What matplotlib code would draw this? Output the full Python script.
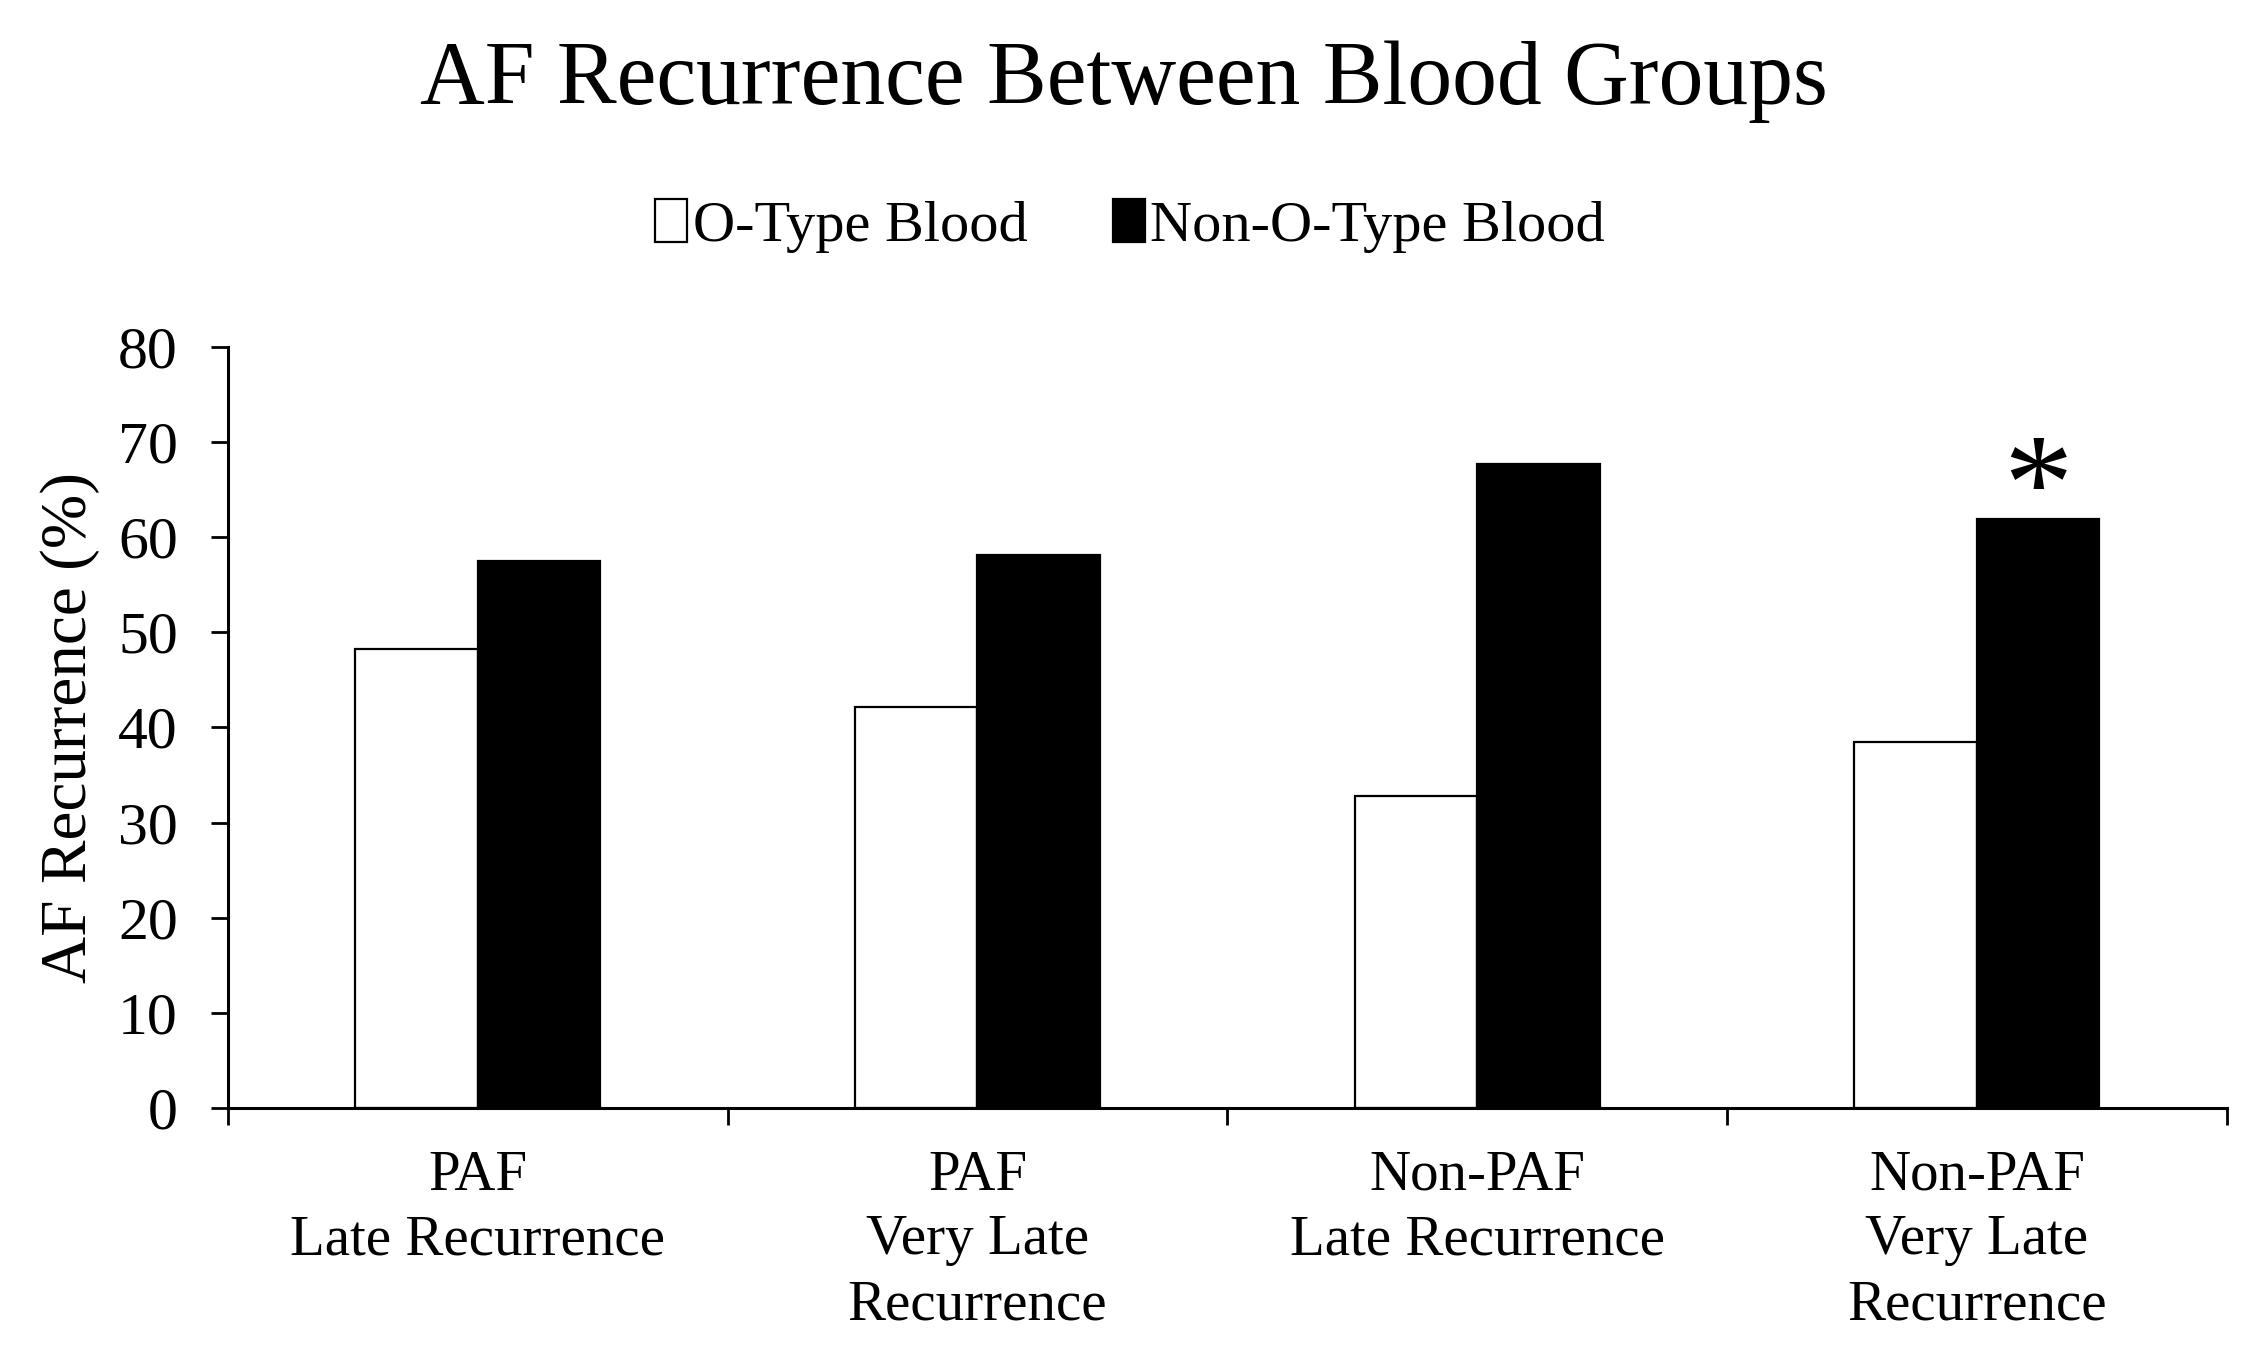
import numpy as np
import matplotlib.pyplot as plt

# data
categories = ['PAF\nLate Recurrence', 'PAF\nVery Late\nRecurrence',
              'Non-PAF\nLate Recurrence', 'Non-PAF\nVery Late\nRecurrence']
o_type = [48.3, 42.2, 32.8, 38.5]
non_o_type = [57.5, 58.1, 67.7, 61.9]
significant = [False, False, False, True]
series_names = ['O-Type Blood', 'Non-O-Type Blood']

plt.rcParams['font.family'] = ['Liberation Serif', 'DejaVu Serif']

fig = plt.figure(figsize=(22.56, 13.61), dpi=100)
ax = fig.add_axes([0.101, 0.186, 0.886, 0.559])

x = np.arange(len(categories))
w = 0.245
ax.bar(x - w/2, o_type, w, color='white', edgecolor='black', linewidth=1.6, label=series_names[0])
ax.bar(x + w/2, non_o_type, w, color='black', edgecolor='black', linewidth=1.6, label=series_names[1])

# significance star above the bar
for i, sig in enumerate(significant):
    if sig:
        ax.annotate('*', xy=(x[i] + w/2, non_o_type[i]), xytext=(0, -7),
                    textcoords='offset points', ha='center', va='baseline', fontsize=100)

ax.set_xlim(-0.5, len(categories) - 0.5)
ax.set_ylim(0, 80)
ax.set_yticks(np.arange(0, 81, 10))
ax.set_xticks(np.arange(-0.5, len(categories)))
ax.set_xticklabels([])
ax.set_xticks(x, minor=True)
ax.set_xticklabels(categories, minor=True, linespacing=1.32)
ax.tick_params(axis='x', which='minor', length=0, pad=30, labelsize=41)
ax.tick_params(axis='x', which='major', direction='out', length=12, width=2)
ax.tick_params(axis='y', direction='out', length=12, width=2, labelsize=43, pad=24)
for s in ['top', 'right']:
    ax.spines[s].set_visible(False)
for s in ['left', 'bottom']:
    ax.spines[s].set_linewidth(2.2)
ax.set_ylabel('AF Recurrence (%)', fontsize=47)
ax.yaxis.set_label_coords(-0.064, 0.5)

fig.text(0.498, 0.94, 'AF Recurrence Between Blood Groups', ha='center', va='center', fontsize=64.5)
fig.legend(loc='center', bbox_to_anchor=(0.501, 0.834), ncol=2, frameon=False, fontsize=42,
           handlelength=0.55, handleheight=0.75, handletextpad=0.1, columnspacing=1.45)

fig.savefig('out.png', dpi=100)
